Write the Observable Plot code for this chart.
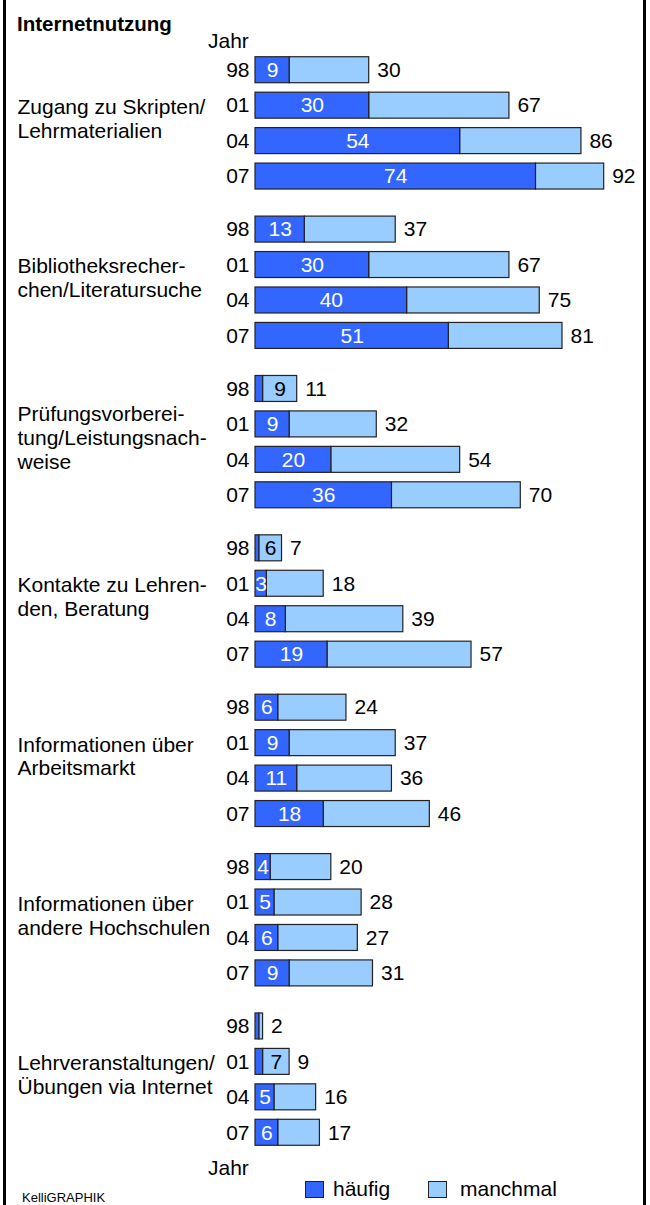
<!DOCTYPE html>
<html>
<head>
<meta charset="utf-8">
<script src="https://cdn.jsdelivr.net/npm/d3@7"></script>
<script src="https://cdn.jsdelivr.net/npm/@observablehq/plot@0.6"></script>
<style>
  html, body { margin: 0; padding: 0; background: #fff; }
  body { width: 650px; height: 1205px; overflow: hidden; position: relative;
         font-family: "Liberation Sans", Arial, sans-serif; color: #000; }
  .abs { position: absolute; white-space: nowrap; line-height: 1; }
  #chart { position: absolute; left: 0; top: 0; }
  .vline { position: absolute; top: 0; height: 1205px; background: #000; }
  .sw { position: absolute; width: 17px; height: 15px; border: 1px solid #222; }
</style>
</head>
<body>
<div id="chart"></div>
<div class="vline" style="left:3px;width:3px"></div>
<div class="vline" style="left:643px;width:3px"></div>
<div class="abs" style="left:17px;top:14px;font-size:20.5px;font-weight:bold">Internetnutzung</div>
<div class="abs" style="left:208px;top:30px;font-size:21px">Jahr</div>
<div class="abs" style="left:208px;top:1157px;font-size:21px">Jahr</div>
<div class="sw" style="left:305px;top:1181px;background:#3366ff"></div>
<div class="abs" style="left:333px;top:1178px;font-size:21px">häufig</div>
<div class="sw" style="left:428px;top:1181px;background:#99ccff"></div>
<div class="abs" style="left:460px;top:1178px;font-size:21px">manchmal</div>
<div class="abs" style="left:22px;top:1191px;font-size:13px">KelliGRAPHIK</div>
<script>
// ---- data ----
const groups = [
  "Zugang zu Skripten/\nLehrmaterialien",
  "Bibliotheksrecher-\nchen/Literatursuche",
  "Prüfungsvorberei-\ntung/Leistungsnach-\nweise",
  "Kontakte zu Lehren-\nden, Beratung",
  "Informationen über\nArbeitsmarkt",
  "Informationen über\nandere Hochschulen",
  "Lehrveranstaltungen/\nÜbungen via Internet"
];
const years = ["98", "01", "04", "07"];
// häufig (frequently) per group and year
const haeufig = [
  [9, 30, 54, 74],
  [13, 30, 40, 51],
  [2, 9, 20, 36],
  [1, 3, 8, 19],
  [6, 9, 11, 18],
  [4, 5, 6, 9],
  [1, 2, 5, 6]
];
// total (häufig + manchmal) per group and year
const gesamt = [
  [30, 67, 86, 92],
  [37, 67, 75, 81],
  [11, 32, 54, 70],
  [7, 18, 39, 57],
  [24, 37, 36, 46],
  [20, 28, 27, 31],
  [2, 9, 16, 17]
];
// which inner value is printed: "h" = häufig, "m" = manchmal, "" = none
const innenLabel = [
  ["h", "h", "h", "h"],
  ["h", "h", "h", "h"],
  ["m", "h", "h", "h"],
  ["m", "h", "h", "h"],
  ["h", "h", "h", "h"],
  ["h", "h", "h", "h"],
  ["", "m", "h", "h"]
];

const rows = [];
groups.forEach((g, i) => years.forEach((y, j) => {
  const h = haeufig[i][j], t = gesamt[i][j];
  rows.push({group: g, year: y, h, total: t, m: t - h, lab: innenLabel[i][j]});
}));

const dark = "#3366ff", light = "#99ccff", edge = "#222";

const plot = Plot.plot({
  width: 650,
  height: 1205,
  marginLeft: 255,
  marginRight: 16,
  marginTop: 52,
  marginBottom: 55,
  facetMarginTop: 0, facetMarginBottom: 0, facetMarginLeft: 0, facetMarginRight: 0,
  style: {fontFamily: "'Liberation Sans', Arial, sans-serif", fontSize: "21px", background: "transparent", overflow: "visible"},
  x: {domain: [0, 100], axis: null},
  y: {domain: years, paddingInner: 0.267, paddingOuter: 0.1335, round: false, label: null, tickSize: 0, tickPadding: 6},
  fy: {domain: groups, paddingInner: 0.1104, paddingOuter: 0, round: false, axis: null, label: null},
  marks: [
    Plot.barX(rows, {fy: "group", y: "year", x1: "h", x2: "total", fill: light, stroke: edge, strokeWidth: 1.2}),
    Plot.barX(rows, {fy: "group", y: "year", x1: d => 0, x2: "h", fill: dark, stroke: edge, strokeWidth: 1.2}),
    Plot.text(rows.filter(d => d.lab === "h"), {fy: "group", y: "year", x: d => d.h / 2, text: d => String(d.h), fill: "white"}),
    Plot.text(rows.filter(d => d.lab === "m"), {fy: "group", y: "year", x: d => d.h + d.m / 2, text: d => String(d.m), fill: "black"}),
    Plot.text(rows, {fy: "group", y: "year", x: "total", text: d => String(d.total), textAnchor: "start", dx: 8, fill: "black"}),
    Plot.text(groups, {fy: d => d, text: d => d, frameAnchor: "left", textAnchor: "start", dx: -238, dy: -5, lineHeight: 1.14, fill: "black"})
  ]
});
document.getElementById("chart").appendChild(plot);
</script>
</body>
</html>
